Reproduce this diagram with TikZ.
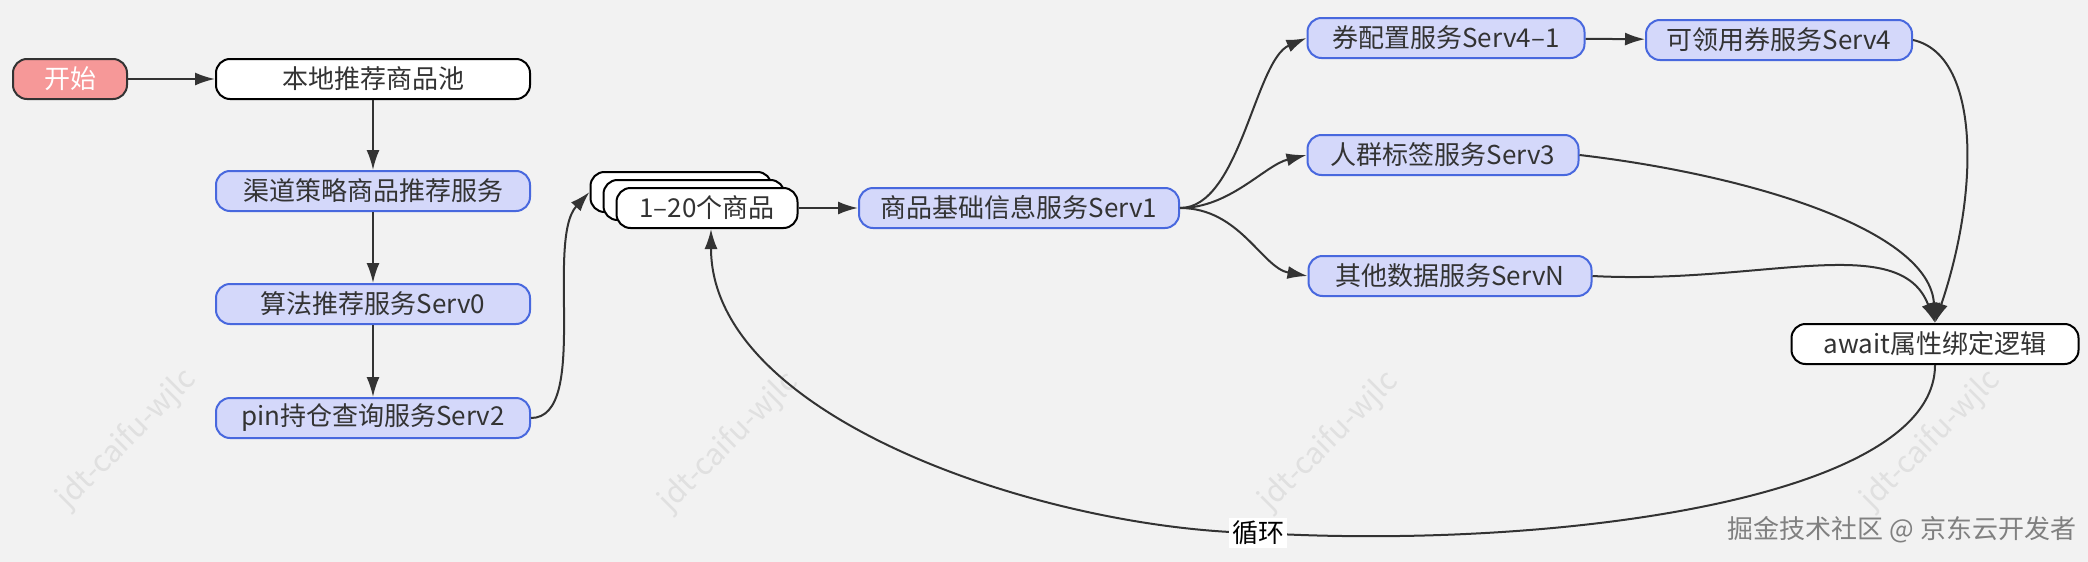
\documentclass[tikz,border=0pt]{standalone}
\usepackage{fontspec}
\setmainfont{Noto Sans CJK SC}
\usepackage{tikz}
\usetikzlibrary{arrows.meta,positioning}
\definecolor{bggray}{RGB}{242,242,242}
\definecolor{servfill}{RGB}{212,216,250}
\definecolor{servdraw}{RGB}{72,104,222}
\definecolor{startfill}{RGB}{246,152,152}
\definecolor{inkgray}{RGB}{51,51,51}
\definecolor{markgray}{RGB}{224,224,224}
\definecolor{srcgray}{RGB}{128,128,128}

\begin{document}
\begin{tikzpicture}[x=0.5pt, y=-0.5pt,
    box/.style={rectangle, rounded corners=7pt, draw=black, line width=1pt, fill=white, text=inkgray, minimum height=20pt, inner sep=0pt, font=\fontsize{13pt}{15pt}\selectfont},
    serv/.style={box, draw=servdraw, fill=servfill},
    start/.style={box, draw=inkgray, fill=startfill, text=white},
    arrow/.style={-{Latex[length=10pt,width=6.5pt]}, line width=1pt, draw=inkgray},
    wmark/.style={text=markgray, rotate=45, font=\fontsize{15pt}{17pt}\selectfont},
    looplbl/.style={fill=white, text=black, inner sep=1.5pt, font=\fontsize{13pt}{15pt}\selectfont}
]
    \fill[bggray] (0,0) rectangle (2088,562);
    \useasboundingbox (0,0) rectangle (2088,562);

    \node[wmark] (wm1) at (127,439) {jdt-caifu-wjlc};
    \node[wmark] (wm2) at (729,442) {jdt-caifu-wjlc};
    \node[wmark] (wm3) at (1329,441) {jdt-caifu-wjlc};
    \node[wmark] (wm4) at (1931,440) {jdt-caifu-wjlc};

    \node[start, minimum width=57pt] (start) at (70,79) {开始};
    \node[box, minimum width=157pt] (pool) at (373,79) {本地推荐商品池};
    \node[serv, minimum width=157pt] (chan) at (373,191) {渠道策略商品推荐服务};
    \node[serv, minimum width=157pt] (algo) at (373,304) {算法推荐服务Serv0};
    \node[serv, minimum width=157pt] (pin) at (373,418) {pin持仓查询服务Serv2};

    \node[box, minimum width=90.5pt] (stkb) at (681,192) {};
    \node[box, minimum width=90.5pt] (stkm) at (694,200) {};
    \node[box, minimum width=90.5pt] (stk) at (707,208) {1–20个商品};

    \node[serv, minimum width=160pt] (s1) at (1019,208) {商品基础信息服务Serv1};
    \node[serv, minimum width=138.5pt] (s41) at (1446,38) {券配置服务Serv4–1};
    \node[serv, minimum width=133pt] (s4) at (1779,40) {可领用券服务Serv4};
    \node[serv, minimum width=135.5pt] (s3) at (1443,155) {人群标签服务Serv3};
    \node[serv, minimum width=141.5pt] (sn) at (1450,276) {其他数据服务ServN};
    \node[box, minimum width=143.5pt] (await) at (1935,344) {await属性绑定逻辑};

    \draw[arrow] (start) -- (pool);
    \draw[arrow] (pool) -- (chan);
    \draw[arrow] (chan) -- (algo);
    \draw[arrow] (algo) -- (pin);
    \draw[arrow] (pin.east) .. controls (590,418) and (545,240) .. (stkb.west);
    \draw[arrow] (stk) -- (s1);

    \draw[arrow] (s1.east) .. controls (1240,208) and (1255,60) .. (s41.west);
    \draw[arrow] (s1.east) .. controls (1230,208) and (1265,165) .. (s3.west);
    \draw[arrow] (s1.east) .. controls (1240,208) and (1262,268) .. (sn.west);
    \draw[arrow] (s41) -- (s4);

    \draw[arrow] (s4.east) .. controls (1980,55) and (1980,190) .. (await.north);
    \draw[arrow] (s3.east) .. controls (1750,175) and (1930,230) .. (await.north);
    \draw[arrow] (sn.east) .. controls (1760,285) and (1900,230) .. (await.north);

    \coordinate (loopc) at (1258,533);
    \draw[arrow] (await.south) .. controls (1935,500) and (1550,550) .. (loopc)
        .. controls (1050,530) and (711,420) .. ([xshift=2pt]stk.south);
    \node[looplbl] (loop) at (loopc) {循环};

    \node[text=srcgray, font=\fontsize{13pt}{15pt}\selectfont] (src) at (1902,530) {掘金技术社区 @ 京东云开发者};
\end{tikzpicture}
\end{document}
